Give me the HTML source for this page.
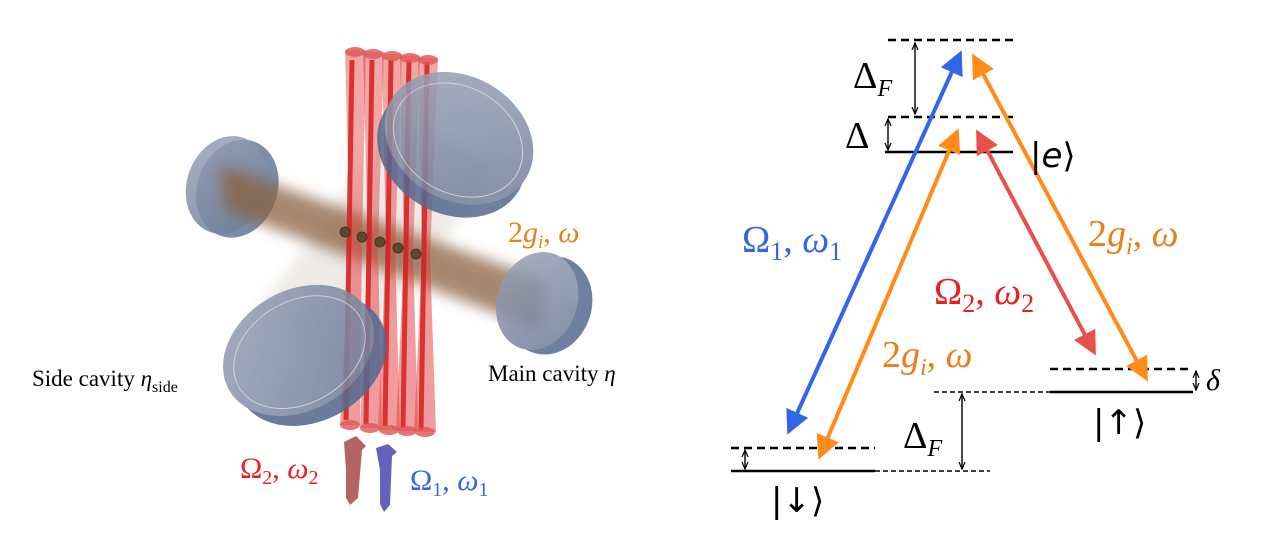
<!DOCTYPE html>
<html><head><meta charset="utf-8"><style>
html,body{margin:0;padding:0;background:#fff;}
svg{display:block;}
</style></head><body>
<svg width="1271" height="538" viewBox="0 0 1271 538" xmlns="http://www.w3.org/2000/svg">
<defs>
<filter id="blur" x="-20%" y="-50%" width="140%" height="200%"><feGaussianBlur stdDeviation="7"/></filter>
<linearGradient id="mir" x1="0" y1="0" x2="1" y2="1">
<stop offset="0" stop-color="#9aa5b8"/><stop offset="1" stop-color="#6c7a96"/></linearGradient>
<marker id="ab" markerWidth="6" markerHeight="6" refX="5" refY="3" orient="auto-start-reverse" markerUnits="strokeWidth"><path d="M0,0 L6,3 L0,6 z" fill="#3366e6"/></marker>
<marker id="ao" markerWidth="6" markerHeight="6" refX="5" refY="3" orient="auto-start-reverse" markerUnits="strokeWidth"><path d="M0,0 L6,3 L0,6 z" fill="#ff8c1a"/></marker>
<marker id="ar" markerWidth="6" markerHeight="6" refX="5" refY="3" orient="auto-start-reverse" markerUnits="strokeWidth"><path d="M0,0 L6,3 L0,6 z" fill="#e8504a"/></marker>
<marker id="ak" markerWidth="8" markerHeight="8" refX="7" refY="4" orient="auto-start-reverse" markerUnits="userSpaceOnUse"><path d="M0,1 L7,4 L0,7" fill="none" stroke="#000" stroke-width="1.2"/></marker>
</defs>

<polygon points="400,120 500,170 330,380 250,320" fill="#d8d2cc" opacity="0.45" filter="url(#blur)"/>
<g transform="rotate(20 227 185)">
<ellipse cx="238" cy="185" rx="40" ry="50" fill="#5c6f92" opacity="0.8"/>
<ellipse cx="227" cy="185" rx="40" ry="50" fill="url(#mir)" opacity="0.85"/>
</g>
<polygon points="220,165 545,280 540,330 225,210" fill="#8a6040" opacity="0.75" filter="url(#blur)"/>
<g fill="#e23a3a">
<polygon points="345,50 366,50 362,240 350,240" opacity="0.45"/>
<polygon points="350,240 362,240 360,425 340,425" opacity="0.5"/>
<polygon points="363,52 384,52 378,245 368,245" opacity="0.45"/>
<polygon points="368,245 378,245 382,428 360,428" opacity="0.5"/>
<polygon points="382,54 402,54 395,248 386,248" opacity="0.45"/>
<polygon points="386,248 395,248 400,430 378,430" opacity="0.5"/>
<polygon points="400,56 420,56 413,252 404,252" opacity="0.45"/>
<polygon points="404,252 413,252 418,431 396,431" opacity="0.5"/>
<polygon points="418,58 438,58 430,256 422,256" opacity="0.45"/>
<polygon points="422,256 430,256 436,432 414,432" opacity="0.5"/>
</g>
<g stroke="#d42020" stroke-width="5" opacity="0.85">
<line x1="352" y1="60" x2="346" y2="420"/>
<line x1="372" y1="60" x2="366" y2="424"/>
<line x1="391" y1="60" x2="385" y2="426"/>
<line x1="409" y1="60" x2="403" y2="428"/>
<line x1="427" y1="62" x2="421" y2="430"/>
</g>
<g fill="#e05555" opacity="0.8">
<ellipse cx="355" cy="52" rx="10" ry="5"/><ellipse cx="373" cy="54" rx="10" ry="5"/><ellipse cx="392" cy="56" rx="10" ry="5"/><ellipse cx="410" cy="58" rx="10" ry="5"/><ellipse cx="428" cy="60" rx="10" ry="5"/>
<ellipse cx="350" cy="425" rx="10" ry="5"/><ellipse cx="370" cy="428" rx="10" ry="5"/><ellipse cx="389" cy="430" rx="10" ry="5"/><ellipse cx="407" cy="431" rx="10" ry="5"/><ellipse cx="425" cy="432" rx="10" ry="5"/>
</g>
<g fill="#5a4a30" stroke="#3a2e1a" stroke-width="0.8">
<circle cx="345" cy="232" r="5"/><circle cx="362" cy="237" r="5"/><circle cx="380" cy="242" r="5"/><circle cx="398" cy="248" r="5"/><circle cx="416" cy="254" r="5"/>
</g>
<g transform="rotate(30 458 140)" opacity="0.85">
<ellipse cx="458" cy="153" rx="78" ry="62" fill="#56698f"/>
<ellipse cx="458" cy="138" rx="78" ry="62" fill="url(#mir)"/>
<ellipse cx="458" cy="140" rx="68" ry="53" fill="none" stroke="#c8ced8" stroke-width="1"/>
</g>
<g transform="rotate(-30 300 353)" opacity="0.88">
<ellipse cx="306" cy="365" rx="80" ry="60" fill="#56698f"/>
<ellipse cx="300" cy="350" rx="80" ry="60" fill="url(#mir)"/>
<ellipse cx="300" cy="352" rx="70" ry="51" fill="none" stroke="#c8ced8" stroke-width="1"/>
</g>
<g transform="rotate(20 540 302)" opacity="0.85">
<ellipse cx="550" cy="302" rx="42" ry="50" fill="#56698f"/>
<ellipse cx="537" cy="302" rx="40" ry="50" fill="url(#mir)"/>
</g>
<polygon points="346,470 344,442 356,436 366,446 362,450 358,498 350,505 346,498" fill="#a84848" opacity="0.85"/>
<polygon points="380,470 376,448 388,444 397,452 392,456 390,505 384,512 380,504" fill="#4b46b0" opacity="0.85"/>

<g font-family="'Liberation Serif',serif" font-size="23" fill="#000">
<text x="32" y="386">Side cavity <tspan font-style="italic">η</tspan><tspan font-size="16" dy="6">side</tspan></text>
<text x="488" y="381">Main cavity <tspan font-style="italic">η</tspan></text>
</g>
<g font-family="'Liberation Serif',serif" font-size="30">
<text x="508" y="242" fill="#e8801a">2<tspan font-style="italic">g</tspan><tspan font-size="19" font-style="italic" dy="6">i</tspan><tspan dy="-6">, </tspan><tspan font-style="italic">ω</tspan></text>
<text x="240" y="478" fill="#e82020">Ω<tspan font-size="20" dy="6">2</tspan><tspan dy="-6">, </tspan><tspan font-style="italic">ω</tspan><tspan font-size="20" dy="6">2</tspan></text>
<text x="410" y="490" fill="#3366e6">Ω<tspan font-size="20" dy="6">1</tspan><tspan dy="-6">, </tspan><tspan font-style="italic">ω</tspan><tspan font-size="20" dy="6">1</tspan></text>
</g>

<g stroke="#000" stroke-width="2.5" fill="none">
<line x1="888" y1="40" x2="1013" y2="40" stroke-dasharray="8,5"/>
<line x1="888" y1="117" x2="1013" y2="117" stroke-dasharray="8,5"/>
<line x1="885" y1="152" x2="1013" y2="152"/>
<line x1="1050" y1="369" x2="1193" y2="369" stroke-dasharray="8,5"/>
<line x1="1050" y1="392" x2="1193" y2="392"/>
<line x1="731" y1="448" x2="875" y2="448" stroke-dasharray="8,5"/>
<line x1="731" y1="471" x2="875" y2="471"/>
</g>
<g stroke="#000" stroke-width="1.4" fill="none">
<line x1="934" y1="392" x2="1050" y2="392" stroke-dasharray="5,3"/>
<line x1="875" y1="471" x2="990" y2="471" stroke-dasharray="5,3"/>
<line x1="915" y1="43" x2="915" y2="114" marker-start="url(#ak)" marker-end="url(#ak)"/>
<line x1="888" y1="119" x2="888" y2="150" marker-start="url(#ak)" marker-end="url(#ak)"/>
<line x1="962" y1="394" x2="962" y2="469" marker-start="url(#ak)" marker-end="url(#ak)"/>
<line x1="1196" y1="371" x2="1196" y2="390" marker-start="url(#ak)" marker-end="url(#ak)"/>
<line x1="745" y1="450" x2="745" y2="469" marker-start="url(#ak)" marker-end="url(#ak)"/>
</g>
<g stroke-width="4" fill="none">
<line x1="789" y1="431" x2="960" y2="54" stroke="#3366e6" marker-start="url(#ab)" marker-end="url(#ab)"/>
<line x1="820" y1="456" x2="957" y2="132" stroke="#ff8c1a" marker-start="url(#ao)" marker-end="url(#ao)"/>
<line x1="978" y1="133" x2="1094" y2="352" stroke="#e8504a" marker-start="url(#ar)" marker-end="url(#ar)"/>
<line x1="974" y1="57" x2="1146" y2="378" stroke="#ff8c1a" marker-start="url(#ao)" marker-end="url(#ao)"/>
</g>
<g font-family="'Liberation Serif',serif" font-size="38">
<text x="853" y="88" fill="#000">Δ<tspan font-size="24" font-style="italic" dy="8">F</tspan></text>
<text x="845" y="148" fill="#000">Δ</text>
<text x="903" y="448" fill="#000">Δ<tspan font-size="24" font-style="italic" dy="8">F</tspan></text>
<text x="1206" y="390" fill="#000" font-style="italic" font-size="30">δ</text>
<text x="742" y="252" fill="#3366e6">Ω<tspan font-size="26" dy="8">1</tspan><tspan dy="-8">, </tspan><tspan font-style="italic">ω</tspan><tspan font-size="26" dy="8">1</tspan></text>
<text x="1088" y="246" fill="#e8801a">2<tspan font-style="italic">g</tspan><tspan font-size="24" font-style="italic" dy="8">i</tspan><tspan dy="-8">, </tspan><tspan font-style="italic">ω</tspan></text>
<text x="934" y="304" fill="#e82020">Ω<tspan font-size="26" dy="8">2</tspan><tspan dy="-8">, </tspan><tspan font-style="italic">ω</tspan><tspan font-size="26" dy="8">2</tspan></text>
<text x="882" y="367" fill="#e8801a">2<tspan font-style="italic">g</tspan><tspan font-size="24" font-style="italic" dy="8">i</tspan><tspan dy="-8">, </tspan><tspan font-style="italic">ω</tspan></text>
</g>
<g font-family="'DejaVu Sans',sans-serif" font-size="34" fill="#000">
<text x="1030" y="167">|<tspan font-style="italic">e</tspan>⟩</text>
<text x="1093" y="434">|↑⟩</text>
<text x="771" y="512">|↓⟩</text>
</g>
</svg>
</body></html>
